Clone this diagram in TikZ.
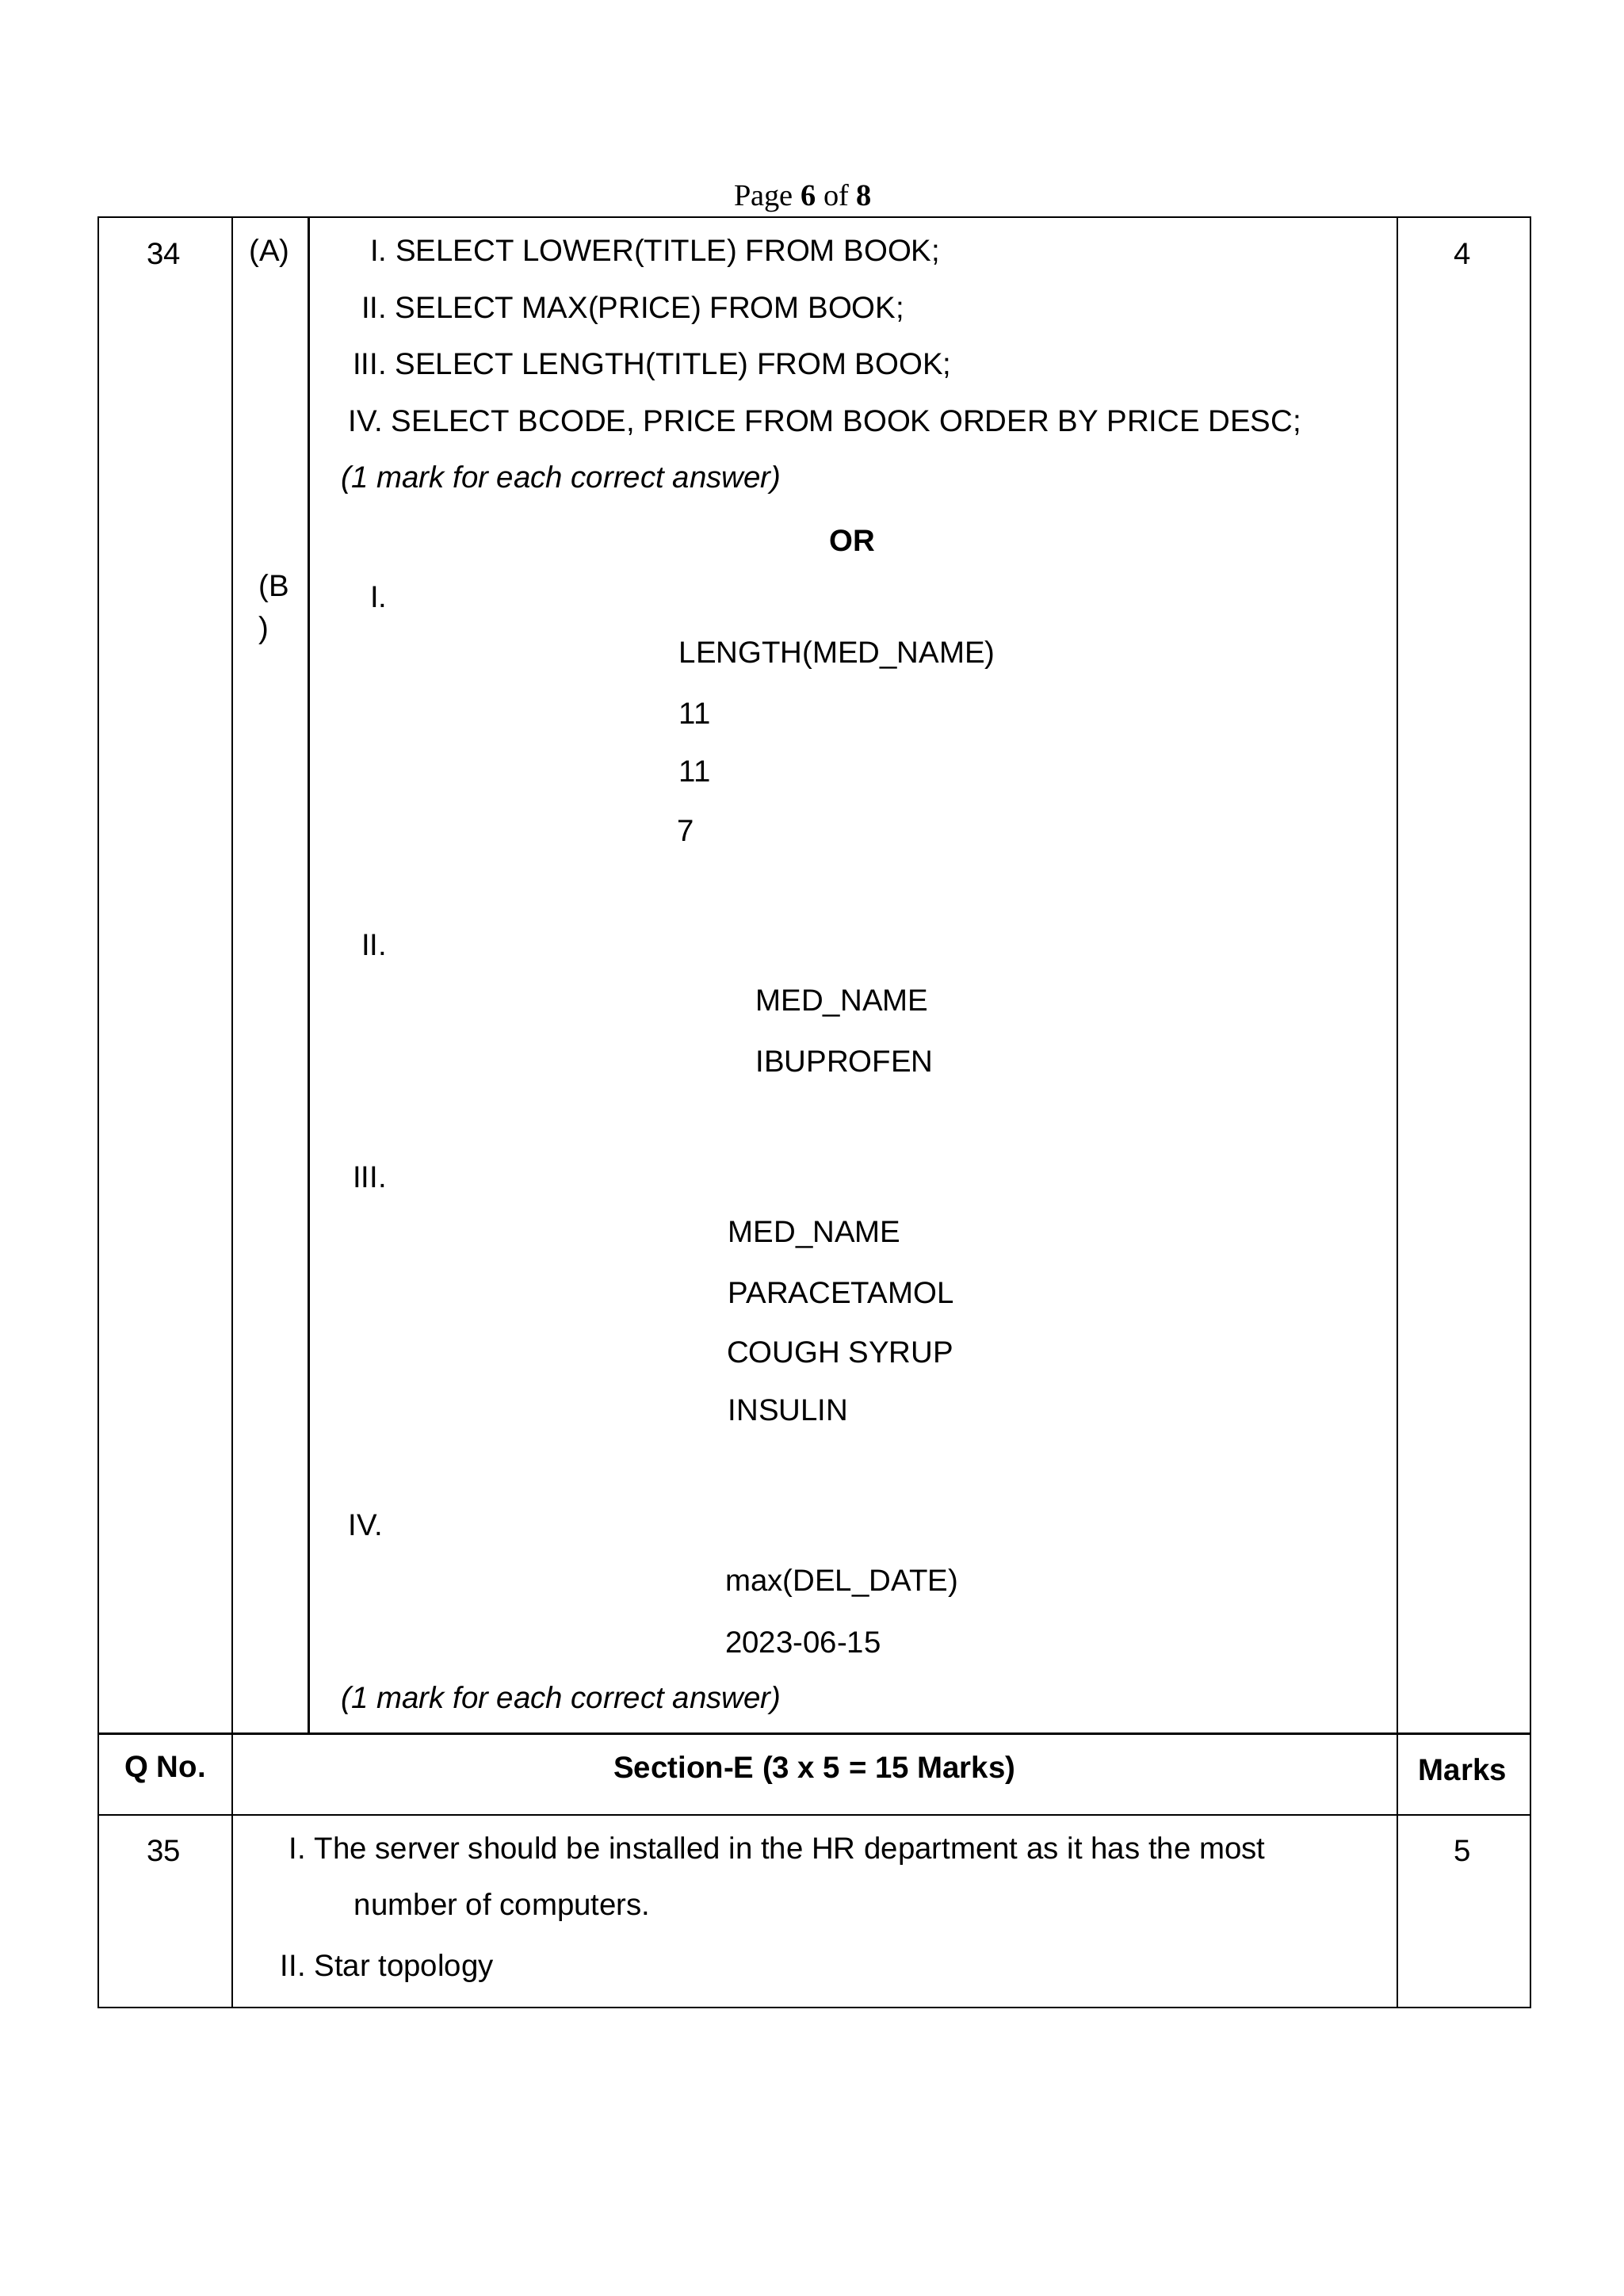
\documentclass[tikz,border=0pt]{standalone}
\usepackage{fontspec}
\setmainfont{Liberation Sans}
\newfontfamily\serifpg{Liberation Serif}
\begin{document}
\begin{tikzpicture}[x=0.5pt,y=-0.5pt,
  t/.style={anchor=west,inner sep=0pt,font=\fontsize{10.5pt}{12pt}\selectfont},
  c/.style={anchor=center,inner sep=0pt,font=\fontsize{10.5pt}{12pt}\selectfont},
  ln/.style={line width=0.6pt}]
\useasboundingbox (0,0) rectangle (1120,1584);
\node[c,font=\serifpg\fontsize{10.5pt}{12pt}\selectfont] (pg) at (554,137) {Page \textbf{6} of \textbf{8}};
% table
\draw[ln] (68,150) rectangle (1056,1385);
\draw[ln] (160,150) -- (160,1385);
\draw[ln] (964,150) -- (964,1385);
\draw[ln] (213,150) -- (213,1196);
\draw[ln] (68,1196) -- (1056,1196);
\draw[ln] (68,1252) -- (1056,1252);
% row 34
\node[c] (q34) at (113,175) {34};
\node[c] (pa) at (186,175) {(A)};
\node[c] (m4) at (1009,175) {4};
\node[t] (a1) at (255,175) {I. SELECT LOWER(TITLE) FROM BOOK;};
\node[t] (a2) at (249,214) {II. SELECT MAX(PRICE) FROM BOOK;};
\node[t] (a3) at (243,253) {III. SELECT LENGTH(TITLE) FROM BOOK;};
\node[t] (a4) at (240,292) {IV. SELECT BCODE, PRICE FROM BOOK ORDER BY PRICE DESC;};
\node[t] (am) at (235,331) {\itshape (1 mark for each correct answer)};
\node[c] (or) at (588,373) {\bfseries OR};
\node[t] (pb1) at (178,406) {(B};
\node[t] (pb2) at (178,435) {)};
\node[t] (b1) at (255,412) {I.};
\node[t] (b1a) at (468,452) {LENGTH(MED\_NAME)};
\node[t] (b1b) at (468,492) {11};
\node[t] (b1c) at (468,532) {11};
\node[t] (b1d) at (467,573) {7};
\node[t] (b2) at (249,652) {II.};
\node[t] (b2a) at (521,692) {MED\_NAME};
\node[t] (b2b) at (521,732) {IBUPROFEN};
\node[t] (b3) at (243,812) {III.};
\node[t] (b3a) at (502,852) {MED\_NAME};
\node[t] (b3b) at (502,892) {PARACETAMOL};
\node[t] (b3c) at (501,933) {COUGH SYRUP};
\node[t] (b3d) at (502,973) {INSULIN};
\node[t] (b4) at (240,1052) {IV.};
\node[t] (b4a) at (500,1092) {max(DEL\_DATE)};
\node[t] (b4b) at (500,1133) {2023-06-15};
\node[t] (bm) at (235,1173) {\itshape (1 mark for each correct answer)};
% header
\node[c] (hq) at (114,1221) {\bfseries Q No.};
\node[c] (hs) at (562,1221) {\bfseries Section-E (3 x 5 = 15 Marks)};
\node[c] (hm) at (1009,1221) {\bfseries Marks};
% row 35
\node[c] (q35) at (113,1277) {35};
\node[c] (m5) at (1009,1277) {5};
\node[t] (e1) at (199,1277) {I. The server should be installed in the HR department as it has the most};
\node[t] (e1b) at (244,1316) {number of computers.};
\node[t] (e2) at (193,1358) {II. Star topology};
\end{tikzpicture}
\end{document}
